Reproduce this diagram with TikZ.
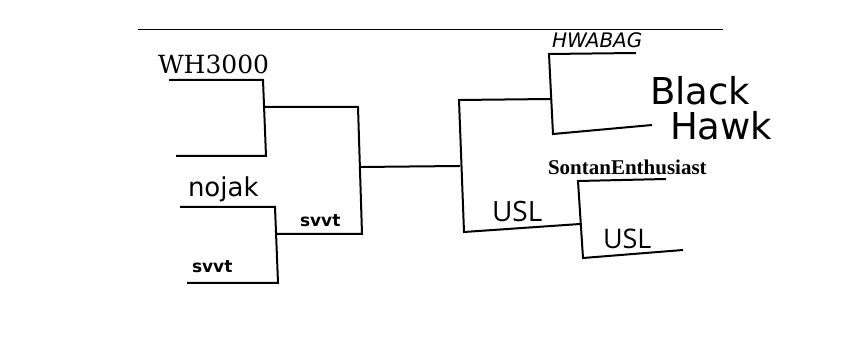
\documentclass[tikz,border=0pt]{standalone}
\usepackage{fontspec}
\setmainfont{Liberation Serif}
\newfontfamily\dvsans{DejaVu Sans}
\newfontfamily\dvserif{DejaVu Serif}
\newfontfamily\opsans{Open Sans}
\tikzset{
  bline/.style={line width=2pt, line join=miter},
  lbl/.style={anchor=base west, inner sep=0pt, outer sep=0pt}
}

\begin{document}
\begin{tikzpicture}[x=1pt, y=-1pt]
    \useasboundingbox (0,0) rectangle (862,352);
    \coordinate (tl) at (138,29);
    \coordinate (tr) at (723,29);
    \draw[line width=0.8pt] (tl) -- (tr);

    % first round, top half
    \coordinate (w1) at (169,80);  \coordinate (w2) at (263,80);
    \coordinate (w3) at (266,156); \coordinate (w4) at (176,156);
    \coordinate (n1) at (180,207); \coordinate (n2) at (275,207);
    \coordinate (n3) at (278,283); \coordinate (n4) at (187,283);
    \draw[bline] (w1) -- (w2) -- (w3) -- (w4);
    \draw[bline] (n1) -- (n2) -- (n3) -- (n4);

    % second round
    \coordinate (m1) at (265,107); \coordinate (m2) at (358,107);
    \coordinate (m3) at (362,234); \coordinate (m4) at (276,234);
    \draw[bline] (m1) -- (m2) -- (m3) -- (m4);

    % final
    \coordinate (c1) at (360,167); \coordinate (c2) at (460,166);
    \draw[bline] (c1) -- (c2);
    \coordinate (r1) at (459,100); \coordinate (r2) at (551,99);
    \coordinate (r3) at (464,232); \coordinate (r4) at (580,224);
    \draw[bline] (r2) -- (r1) -- (r3) -- (r4);

    % right side
    \coordinate (h1) at (636,53);  \coordinate (h2) at (549,54);
    \coordinate (h3) at (553,134); \coordinate (h4) at (652,125);
    \coordinate (g1) at (666,179); \coordinate (g2) at (578,181);
    \coordinate (g3) at (583,258); \coordinate (g4) at (683,250);
    \draw[bline] (h1) -- (h2) -- (h3) -- (h4);
    \draw[bline] (g1) -- (g2) -- (g3) -- (g4);

    % names
    \node[lbl, font=\dvserif\fontsize{25}{27}\selectfont] (wh) at (158,74) {WH3000};
    \node[lbl, font=\dvsans\fontsize{26}{28}\selectfont] (nojak) at (188,197) {nojak};
    \node[lbl, font=\dvsans\bfseries\fontsize{17}{19}\selectfont] (svvta) at (300,227) {svvt};
    \node[lbl, font=\dvsans\bfseries\fontsize{17}{19}\selectfont] (svvtb) at (192,273) {svvt};
    \node[lbl, font=\dvsans\itshape\fontsize{20}{22}\selectfont] (hwabag) at (552,48) {HWABAG};
    \node[lbl, font=\dvsans\fontsize{37}{38}\selectfont] (black) at (650,105) {Black};
    \node[lbl, font=\dvsans\fontsize{37}{38}\selectfont] (hawk) at (670,140) {Hawk};
    \node[lbl, font=\bfseries\fontsize{21}{23}\selectfont] (sontan) at (548,175) {SontanEnthusiast};
    \node[lbl, font=\opsans\fontsize{28}{30}\selectfont] (usla) at (492,222) {USL};
    \node[lbl, font=\opsans\fontsize{27}{29}\selectfont] (uslb) at (603,249) {USL};
\end{tikzpicture}
\end{document}
